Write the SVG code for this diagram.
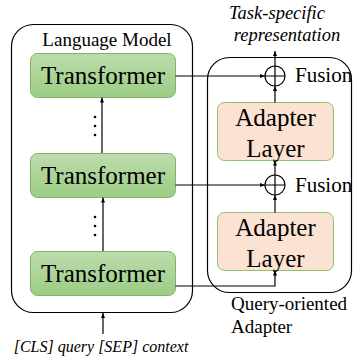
<svg xmlns="http://www.w3.org/2000/svg" width="353" height="360" viewBox="0 0 353 360">
  <defs>
    <linearGradient id="greenFill" x1="0" y1="0" x2="0" y2="1">
      <stop offset="0" stop-color="#bcdcac"/>
      <stop offset="1" stop-color="#9ccd85"/>
    </linearGradient>
    <marker id="arrow" viewBox="0 0 10 10" refX="10" refY="5" markerWidth="5" markerHeight="5" orient="auto" markerUnits="userSpaceOnUse">
      <path d="M0,1 L10,5 L0,9 Z" fill="#000"/>
    </marker>
    <style>
      .frame { fill: none; stroke: #000; stroke-width: 1.2; }
      .tf { fill: url(#greenFill); stroke: #82b366; stroke-width: 1; }
      .ad { fill: #fbe2d3; stroke: #8cc46e; stroke-width: 1; }
      .wire { fill: none; stroke: #000; stroke-width: 1.2; }
      text { font-family: "Liberation Serif", "Times New Roman", serif; fill: #000; }
      .big { font-size: 25px; text-anchor: middle; }
      .lbl { font-size: 19px; }
      .fus { font-size: 21px; }
      .it { font-style: italic; font-size: 18.5px; text-anchor: middle; }
      .inp { font-style: italic; font-size: 16px; text-anchor: middle; }
      .dot { fill: #000; }
    </style>
  </defs>

  <!-- Language model container -->
  <g id="language-model">
    <rect class="frame" x="11.5" y="24.5" width="181" height="288" rx="22" ry="22"/>
    <text class="lbl" x="107" y="46" text-anchor="middle">Language Model</text>
  </g>

  <!-- Query-oriented adapter container -->
  <g id="adapter-container">
    <rect class="frame" x="207.5" y="57.5" width="144" height="235" rx="22" ry="22"/>
    <text class="lbl" x="231" y="310">Query-oriented</text>
    <text class="lbl" x="231" y="333">Adapter</text>
  </g>

  <g id="transformer-1">
    <rect class="tf" x="30.5" y="53.5" width="145" height="44" rx="7" ry="7"/>
    <text class="big" x="103" y="84">Transformer</text>
  </g>
  <g id="transformer-2">
    <rect class="tf" x="30.5" y="153.5" width="145" height="44" rx="7" ry="7"/>
    <text class="big" x="103" y="184">Transformer</text>
  </g>
  <g id="transformer-3">
    <rect class="tf" x="30.5" y="251.5" width="145" height="44" rx="7" ry="7"/>
    <text class="big" x="103" y="282">Transformer</text>
  </g>

  <g id="adapter-layer-1">
    <rect class="ad" x="217.5" y="102.5" width="116" height="58" rx="7" ry="7"/>
    <text class="big" x="275.5" y="126">Adapter</text>
    <text class="big" x="275.5" y="157">Layer</text>
  </g>
  <g id="adapter-layer-2">
    <rect class="ad" x="217.5" y="212.5" width="116" height="58" rx="7" ry="7"/>
    <text class="big" x="275.5" y="236">Adapter</text>
    <text class="big" x="275.5" y="267">Layer</text>
  </g>

  <g id="fusion-1">
    <circle class="wire" cx="275" cy="76" r="10"/>
    <path class="wire" d="M265,76 H285 M275,66 V86"/>
    <text class="fus" x="295" y="82">Fusion</text>
  </g>
  <g id="fusion-2">
    <circle class="wire" cx="275" cy="185" r="10"/>
    <path class="wire" d="M265,185 H285 M275,175 V195"/>
    <text class="fus" x="295" y="192">Fusion</text>
  </g>

  <g id="output-label">
    <text class="it" x="277" y="19">Task-specific</text>
    <text class="it" x="287" y="41">representation</text>
  </g>

  <g id="input-label">
    <text class="inp" x="101" y="352">[CLS] query [SEP] context</text>
  </g>

  <!-- Vertical ellipses between stacked layers -->
  <g id="ellipses">
    <circle class="dot" cx="95" cy="117" r="1.3"/>
    <circle class="dot" cx="95" cy="126" r="1.3"/>
    <circle class="dot" cx="95" cy="135" r="1.3"/>
    <circle class="dot" cx="95" cy="217" r="1.3"/>
    <circle class="dot" cx="95" cy="226" r="1.3"/>
    <circle class="dot" cx="95" cy="235" r="1.3"/>
  </g>

  <g id="connectors">
    <!-- input into the language model -->
    <path class="wire" d="M103,334 V313" marker-end="url(#arrow)"/>
    <!-- between transformer layers -->
    <path class="wire" d="M103,251 V197.5" marker-end="url(#arrow)"/>
    <path class="wire" d="M102,153 V97.5" marker-end="url(#arrow)"/>
    <!-- transformer outputs to adapter side -->
    <path class="wire" d="M175.5,76 H265" marker-end="url(#arrow)"/>
    <path class="wire" d="M175.5,185 H265" marker-end="url(#arrow)"/>
    <path class="wire" d="M175.5,286 H275 V270.5" marker-end="url(#arrow)"/>
    <!-- adapter chain -->
    <path class="wire" d="M275,212.5 V195" marker-end="url(#arrow)"/>
    <path class="wire" d="M275,175 V160.5" marker-end="url(#arrow)"/>
    <path class="wire" d="M275,102.5 V86" marker-end="url(#arrow)"/>
    <path class="wire" d="M275,66 V51" marker-end="url(#arrow)"/>
  </g>
</svg>
